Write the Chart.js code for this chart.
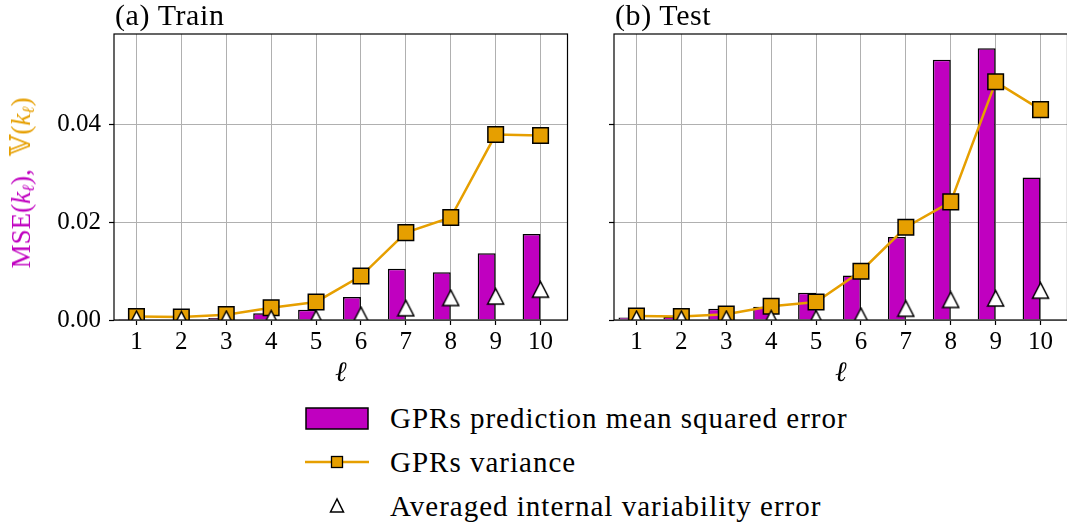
<!DOCTYPE html>
<html>
<head>
<meta charset="utf-8">
<script src="https://cdn.jsdelivr.net/npm/chart.js@4"></script>
<style>
  html, body { margin: 0; padding: 0; background: #fff; overflow: hidden; }
  #wrap { position: relative; width: 1067px; height: 527px; overflow: hidden; font-family: "Liberation Serif", "DejaVu Serif", serif; color: #000; }
  canvas { position: absolute; top: 0; }
  .ttl { position: absolute; top: -3px; font-size: 30px; letter-spacing: 0.6px; line-height: 36px; white-space: nowrap; }
  #ylab { position: absolute; left: 22px; top: 183px; transform: translate(-50%, -50%) rotate(-90deg); white-space: nowrap; font-size: 27px; }
  #ylab .m { color: #c000c0; }
  #ylab .o { color: #e69f00; }
  #ylab sub { font-size: 17px; font-style: italic; vertical-align: -4px; }
  #legend { position: absolute; left: 305px; top: 396px; font-size: 29px; letter-spacing: 1px; }
  .row { height: 44px; display: flex; align-items: center; }
  .row svg { width: 64px; height: 30px; margin-right: 21px; }
</style>
</head>
<body>
<div id="wrap">
  <canvas id="train" width="580" height="390" style="left:0px"></canvas>
  <canvas id="test" width="510" height="390" style="left:570px"></canvas>
  <div class="ttl" style="left:115px">(a) Train</div>
  <div class="ttl" style="left:615px">(b) Test</div>
  <div id="ylab"><span class="m">MSE(<i>k</i><sub>ℓ</sub>),</span>&nbsp;&nbsp;<span class="o">𝕍(<i>k</i><sub>ℓ</sub>)</span></div>
  <div id="legend">
    <div class="row"><svg viewBox="0 0 64 30"><rect x="1" y="5" width="62" height="21" fill="#c000c0" stroke="#000" stroke-width="1.5"/></svg><span>GPRs prediction mean squared error</span></div>
    <div class="row"><svg viewBox="0 0 64 30"><line x1="0" y1="15" x2="64" y2="15" stroke="#e69f00" stroke-width="2.5"/><rect x="26.5" y="9.5" width="11" height="11" fill="#e69f00" stroke="#000" stroke-width="1.3"/></svg><span>GPRs variance</span></div>
    <div class="row"><svg viewBox="0 0 64 30"><polygon points="32,8 25.5,21 38.5,21" fill="#fff" stroke="#000" stroke-width="1.5"/></svg><span>Averaged internal variability error</span></div>
  </div>
</div>
<script>
var levels = [1, 2, 3, 4, 5, 6, 7, 8, 9, 10];
var yTicks = [0, 0.02, 0.04];

var trainMse = [0.0002, 0.0001, 0.0004, 0.0014, 0.0021, 0.0047, 0.0105, 0.0098, 0.0137, 0.0176];
var trainVar = [0.0007, 0.0006, 0.0011, 0.0025, 0.0037, 0.0090, 0.0179, 0.0210, 0.0380, 0.0378];
var trainIv  = [0.0002, 0.0001, 0.0002, 0.0003, 0.0003, 0.0010, 0.0024, 0.0045, 0.0048, 0.0062];

var testMse = [0.0005, 0.0007, 0.0023, 0.0027, 0.0056, 0.0091, 0.0170, 0.0533, 0.0557, 0.0292];
var testVar = [0.0008, 0.0007, 0.0012, 0.0028, 0.0037, 0.0100, 0.0190, 0.0242, 0.0488, 0.0431];
var testIv  = [0.0002, 0.0002, 0.0002, 0.0003, 0.0003, 0.0008, 0.0023, 0.0041, 0.0044, 0.0060];

var MAGENTA = '#c000c0';
var ORANGE = '#e69f00';
var GRID = '#b0b0b0';

Chart.defaults.font.family = '"Liberation Serif", "DejaVu Serif", serif';
Chart.defaults.font.size = 25;
Chart.defaults.color = '#000';

// matplotlib-like '^' marker, centred on its bounding box
var tri = document.createElement('canvas');
tri.width = 19; tri.height = 19;
(function () {
  var c = tri.getContext('2d');
  c.beginPath();
  c.moveTo(9.5, 1.5);
  c.lineTo(1.5, 17);
  c.lineTo(17.5, 17);
  c.closePath();
  c.fillStyle = '#fff';
  c.fill();
  c.lineWidth = 1.5;
  c.strokeStyle = '#000';
  c.stroke();
})();

var boxPlugin = {
  id: 'box',
  afterDraw: function (chart) {
    var a = chart.chartArea, ctx = chart.ctx;
    ctx.save();
    ctx.strokeStyle = '#000';
    ctx.lineWidth = 1.2;
    ctx.strokeRect(a.left, a.top, a.right - a.left, a.bottom - a.top);
    ctx.restore();
  }
};

function makePanel(id, mse, vari, iv, showY, yWidth, padRight) {
  new Chart(id, {
    type: 'bar',
    data: {
      datasets: [{
        type: 'line',
        data: levels.map(function (l, i) { return { x: l, y: iv[i] }; }),
        showLine: false,
        pointStyle: tri,
        pointRadius: 9,
        clip: 0,
        order: 1
      }, {
        type: 'line',
        data: levels.map(function (l, i) { return { x: l, y: vari[i] }; }),
        borderColor: ORANGE,
        borderWidth: 2.5,
        pointStyle: 'rect',
        pointRadius: 11,
        pointBackgroundColor: ORANGE,
        pointBorderColor: '#000',
        pointBorderWidth: 1.5,
        clip: 0,
        order: 2
      }, {
        type: 'bar',
        data: levels.map(function (l, i) { return { x: l - 0.2, y: mse[i] }; }),
        backgroundColor: MAGENTA,
        borderColor: '#000',
        borderWidth: 1.5,
        categoryPercentage: 1,
        barPercentage: 0.4,
        clip: 0,
        order: 3
      }]
    },
    options: {
      responsive: false,
      animation: false,
      events: [],
      layout: { padding: { top: 34, right: padRight, left: 0, bottom: 0 } },
      plugins: { legend: { display: false }, tooltip: { enabled: false } },
      scales: {
        x: {
          type: 'linear',
          offset: false,
          min: 0.5,
          max: 10.6,
          afterBuildTicks: function (s) { s.ticks = levels.map(function (v) { return { value: v }; }); },
          afterFit: function (s) { s.height = 70; },
          ticks: { padding: 2, maxRotation: 0, autoSkip: false },
          grid: { offset: false, color: GRID, lineWidth: 1, tickColor: '#000', tickLength: 5, tickWidth: 1.2 },
          border: { display: false },
          title: { display: true, text: 'ℓ', font: { size: 28, style: 'italic' }, padding: { bottom: 0 } }
        },
        y: {
          min: 0,
          max: 0.0586,
          afterBuildTicks: function (s) { s.ticks = yTicks.map(function (v) { return { value: v }; }); },
          afterFit: function (s) { s.width = yWidth; },
          ticks: {
            padding: 8,
            callback: function (v) { return showY ? v.toFixed(2) : ''; }
          },
          grid: { color: GRID, lineWidth: 1, tickColor: '#000', tickLength: 5, tickWidth: 1.2 },
          border: { display: false }
        }
      }
    },
    plugins: [boxPlugin]
  });
}

makePanel('train', trainMse, trainVar, trainIv, true, 114, 8);
makePanel('test', testMse, testVar, testIv, false, 44, 7);
</script>
</body>
</html>
